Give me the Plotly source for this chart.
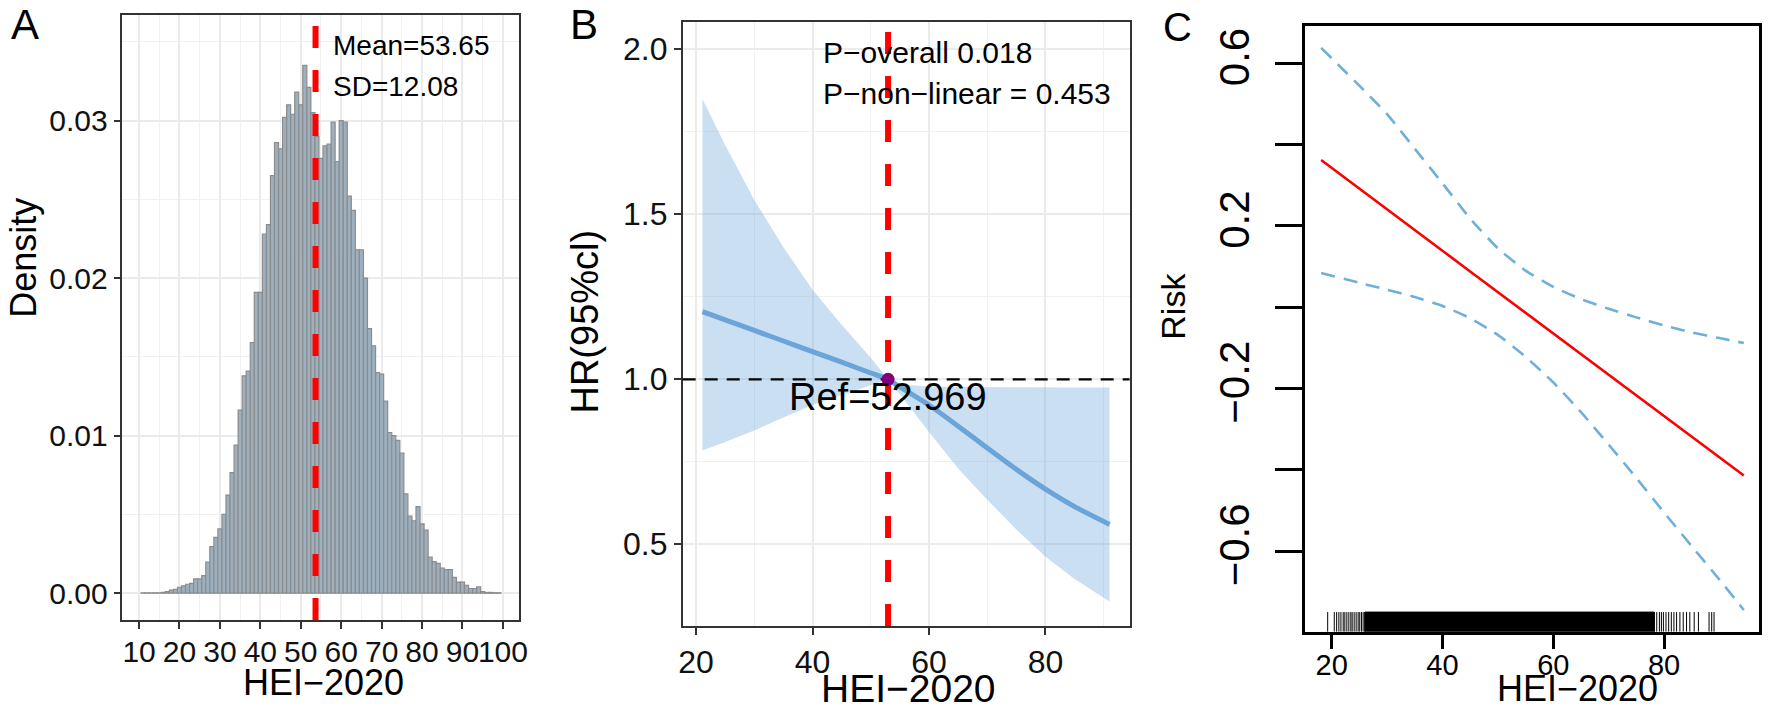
import plotly.graph_objects as go

W, H = 1772, 710
FONT = "Liberation Sans, Arial, sans-serif"

# ---- Panel A: distribution of HEI-2020 (binwidth 1, density scale)
hei_bins = list(range(11, 100))
hei_density = [
    0.00002, 0.00002, 0.00002, 0.00003, 0.00003, 0.00005, 0.0001,          # 11-17
    0.0002, 0.00025, 0.00038, 0.00046, 0.00057, 0.00063, 0.00091, 0.00091,  # 18-25
    0.00112, 0.00197, 0.00296, 0.00355, 0.00408,                            # 26-30
    0.0050, 0.00623, 0.00765, 0.0094, 0.01162, 0.0138, 0.0141, 0.0159, 0.0191, 0.0191,  # 31-40
    0.0228, 0.0234, 0.0265, 0.0286, 0.0282, 0.0302, 0.0310, 0.0304, 0.0318, 0.0310,     # 41-50
    0.0335, 0.0321, 0.0305, 0.0290, 0.0276, 0.0284, 0.0285, 0.0299, 0.0274, 0.0300,     # 51-60
    0.0299, 0.0252, 0.0243, 0.0218, 0.0218, 0.0200, 0.0168, 0.0157, 0.0140, 0.0139,     # 61-70
    0.0122, 0.0102, 0.0100, 0.0097, 0.0089, 0.0063, 0.0049, 0.0046, 0.0055, 0.0044,     # 71-80
    0.0040, 0.0023, 0.0020, 0.0019, 0.0016, 0.0015, 0.0015, 0.0010, 0.0007, 0.0007,     # 81-90
    0.0005, 0.0003, 0.0003, 0.0004, 0.0001, 0.00005, 0.00005, 0.00003, 0.00003,        # 91-99
]
hei_mean = 53.65
hei_sd = 12.08

# ---- Panel B: restricted cubic spline HR
rcs_x = [21.1, 25, 30, 35, 40, 45, 50, 52.969, 55, 60, 65, 70, 75, 80, 85, 91]
rcs_hr = [1.205, 1.18, 1.148, 1.116, 1.084, 1.052, 1.019, 1.0,
          0.977, 0.922, 0.858, 0.792, 0.727, 0.667, 0.614, 0.560]
rcs_upper = [1.849, 1.71, 1.543, 1.40, 1.271, 1.165, 1.065, 1.0,
             0.984, 0.978, 0.977, 0.976, 0.975, 0.975, 0.975, 0.975]
rcs_lower = [0.784, 0.81, 0.845, 0.884, 0.922, 0.953, 0.982, 1.0,
             0.955, 0.84, 0.73, 0.635, 0.545, 0.462, 0.395, 0.327]
ref_value = 52.969
p_overall = "0.018"
p_nonlinear = "0.453"

# ---- Panel C: linear risk with 95% band and rug
lin_x = [18.1, 25, 30, 35, 40, 45, 50, 55, 60, 65, 70, 75, 80, 85, 90, 94.4]
lin_fit = [0.362, 0.291, 0.240, 0.190, 0.139, 0.088, 0.037, -0.014,
           -0.065, -0.115, -0.166, -0.217, -0.268, -0.319, -0.370, -0.414]
lin_upper = [0.638, 0.545, 0.475, 0.39, 0.305, 0.218, 0.145, 0.09,
             0.05, 0.02, -0.004, -0.025, -0.045, -0.062, -0.076, -0.088]
lin_lower = [0.084, 0.06, 0.043, 0.025, 0.003, -0.027, -0.068, -0.122,
             -0.185, -0.258, -0.338, -0.42, -0.505, -0.588, -0.67, -0.745]
rug_left = [19.28, 20.47, 20.9, 21.3, 21.67, 22.08, 22.38, 22.74, 23.1, 23.46,
            23.7, 24.06, 24.42, 24.78, 25.07, 25.38, 25.68, 25.97]
rug_dense = [26.0, 78.2]
rug_right = [78.26, 78.68, 79.16, 79.52, 79.88, 80.35, 80.83, 81.31, 81.78, 82.26,
             82.86, 83.46, 84.06, 84.65, 85.44, 86.2, 88.12, 88.6, 89.02]

# axis ranges (panel frames)
a_xr, a_yr = [5.9, 104.1], [-0.0017, 0.0367]
b_xr, b_yr = [17.7, 94.45], [0.2524, 2.0836]
c_xr, c_yr = [15.21, 97.09], [-0.7985, 0.6908]
rug_len = 0.0485


def fx(p):
    return p / W


def fy(p):
    return 1 - p / H


fig = go.Figure()

# A
fig.add_trace(go.Bar(
    x=hei_bins, y=hei_density, width=1,
    marker=dict(color="#9CB0BF", line=dict(color="#8C8C8C", width=1.2)),
    xaxis="x", yaxis="y", hoverinfo="skip"))

# B
fig.add_trace(go.Scatter(
    x=rcs_x + rcs_x[::-1], y=rcs_upper + rcs_lower[::-1],
    fill="toself", fillcolor="rgba(110,165,222,0.36)", line=dict(width=0),
    mode="lines", xaxis="x2", yaxis="y2", hoverinfo="skip"))
fig.add_trace(go.Scatter(
    x=rcs_x, y=rcs_hr, mode="lines", line=dict(color="#6AA4D8", width=5, shape="spline", smoothing=0.5),
    xaxis="x2", yaxis="y2"))

# C
ci_line = dict(color="#6FB0DA", width=2.6, dash="14px,9px", shape="spline", smoothing=0.5)
fig.add_trace(go.Scatter(x=lin_x, y=lin_upper, mode="lines", line=ci_line,
                         xaxis="x3", yaxis="y3"))
fig.add_trace(go.Scatter(x=lin_x, y=lin_lower, mode="lines", line=ci_line,
                         xaxis="x3", yaxis="y3"))
fig.add_trace(go.Scatter(x=lin_x, y=lin_fit, mode="lines",
                         line=dict(color="#FF0000", width=2.6),
                         xaxis="x3", yaxis="y3"))
rx, ry = [], []
for v in rug_left + rug_right:
    rx += [v, v, None]
    ry += [c_yr[0], c_yr[0] + rug_len, None]
fig.add_trace(go.Scatter(x=rx, y=ry, mode="lines", line=dict(color="black", width=1),
                         xaxis="x3", yaxis="y3", hoverinfo="skip"))
lo, hi = rug_dense
fig.add_trace(go.Scatter(x=[lo, hi, hi, lo, lo],
                         y=[c_yr[0], c_yr[0], c_yr[0] + rug_len, c_yr[0] + rug_len, c_yr[0]],
                         fill="toself", fillcolor="black", mode="lines",
                         line=dict(color="black", width=1), xaxis="x3", yaxis="y3",
                         hoverinfo="skip"))

gg = dict(showline=True, mirror=True, linecolor="#333333", linewidth=1.6,
          ticks="outside", ticklen=7, tickwidth=1.6, tickcolor="#333333",
          showgrid=True, gridcolor="#EBEBEB", gridwidth=2, zeroline=False,
          tickangle=0,
          tickfont=dict(family=FONT, size=30, color="#111111"))
minor = dict(showgrid=True, gridcolor="#F1F1F1", gridwidth=1.2, ticks="")

base = dict(showline=True, mirror=True, linecolor="black", linewidth=2.5,
            ticks="outside", tickwidth=2.5, tickcolor="black",
            showgrid=False, zeroline=False)

fig.update_layout(
    width=W, height=H, margin=dict(l=0, r=0, t=0, b=0), autosize=False,
    paper_bgcolor="white", plot_bgcolor="white", showlegend=False,
    font=dict(family=FONT, color="black"),
    xaxis=dict(gg, domain=[fx(119.3), fx(519)], range=a_xr, anchor="y",
               tick0=10, dtick=10, ticklabelstandoff=-3, minor=dict(minor, tick0=0, dtick=5)),
    yaxis=dict(gg, domain=[fy(620), fy(15)], range=a_yr, anchor="x",
               tick0=0, dtick=0.01, tickformat=".2f", minor=dict(minor, tick0=0, dtick=0.005)),
    xaxis2=dict(gg, domain=[fx(683.3), fx(1133.3)], range=b_xr, anchor="y2",
                tick0=0, dtick=20, tickfont=dict(family=FONT, size=32, color="#111111"),
                minor=dict(minor, tick0=0, dtick=10)),
    yaxis2=dict(gg, domain=[fy(626), fy(21.7)], range=b_yr, anchor="x2",
                tick0=0, dtick=0.5, tickformat=".1f",
                tickfont=dict(family=FONT, size=32, color="#111111"),
                minor=dict(minor, tick0=0, dtick=0.25)),
    xaxis3=dict(base, domain=[fx(1310), fx(1766.7)], range=c_xr, anchor="y3",
                tickvals=[20, 40, 60, 80], ticklen=14, tickangle=0, ticklabelstandoff=-8,
                tickfont=dict(family=FONT, size=29, color="black")),
    yaxis3=dict(base, domain=[fy(631.8), fy(26.4)], range=c_yr, anchor="x3",
                tickvals=[-0.6, -0.4, -0.2, 0.0, 0.2, 0.4, 0.6],
                ticktext=["\u22120.6", "", "\u22120.2", "", "0.2", "", "0.6"],
                tickangle=-90, ticklen=27, ticklabelstandoff=10,
                tickfont=dict(family=FONT, size=42, color="black")),
)

dash_red = dict(color="#FF0000", width=6, dash="22px,22px")
fig.add_shape(type="line", xref="x", yref="y domain", x0=hei_mean, x1=hei_mean,
              y0=0, y1=1, line=dash_red)
fig.add_shape(type="line", xref="x2 domain", yref="y2", x0=0, x1=1, y0=1.0, y1=1.0,
              line=dict(color="black", width=2.2, dash="13px,9px"))
fig.add_shape(type="line", xref="x2", yref="y2 domain", x0=ref_value, x1=ref_value,
              y0=0, y1=1, line=dash_red)
fig.add_shape(type="circle", xref="x2", yref="y2", xsizemode="pixel", ysizemode="pixel",
              xanchor=ref_value, yanchor=1.0, x0=-6.5, x1=6.5, y0=-6.5, y1=6.5,
              fillcolor="#800080", line=dict(color="#800080", width=0))


def label(text, x, y, size, angle=0, xref="paper", yref="paper", xanchor="center"):
    fig.add_annotation(text=text, x=x, y=y, xref=xref, yref=yref, showarrow=False,
                       textangle=angle, xanchor=xanchor, yanchor="middle",
                       font=dict(family=FONT, size=size, color="black"))


label("A", fx(21), fy(25), 42)
label("B", fx(583.5), fy(25), 42)
label("C", fx(1182), fy(27), 40)

label("Density", fx(19), fy(258), 36, angle=-90)
label("HEI\u22122020", fx(321.5), fy(682), 36)
label(f"Mean={hei_mean:.2f}", 57.4, 0.03477, 28, xref="x", yref="y", xanchor="left")
label(f"SD={hei_sd:.2f}", 57.4, 0.03217, 28, xref="x", yref="y", xanchor="left")

label("HR(95%cl)", fx(585), fy(321.5), 38, angle=-90)
label("HEI\u22122020", fx(910.8), fy(688), 39)
label(f"P\u2212overall {p_overall}", 41.53, 1.989, 30, xref="x2", yref="y2", xanchor="left")
label(f"P\u2212non\u2212linear = {p_nonlinear}", 41.53, 1.867, 30, xref="x2", yref="y2", xanchor="left")
label(f"Ref={ref_value}", ref_value, 0.946, 38, xref="x2", yref="y2")

label("Risk", fx(1176.7), fy(306), 34, angle=-90)
label("HEI\u22122020", fx(1584), fy(688), 36)

# the page body has a default 8px margin; drop it so the figure fills the window
fig.write_html("out.html", config={"displayModeBar": False},
               post_script="document.body.style.margin='0';document.body.style.overflow='hidden';")
